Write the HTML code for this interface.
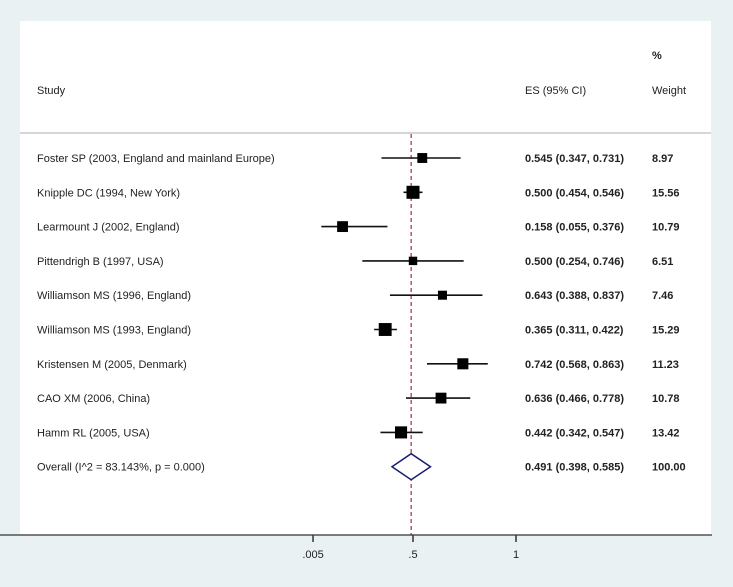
<!DOCTYPE html>
<html><head><meta charset="utf-8"><style>
body{margin:0;background:#eaf1f2;}
svg{display:block;font-family:"Liberation Sans",Arial,sans-serif;}
</style></head><body>
<svg id="c" width="733" height="587">
<rect x="0" y="0" width="733" height="587" fill="#eaf1f2"/>
<rect x="20" y="21" width="691" height="514" fill="#ffffff"/>
<line x1="20" y1="133" x2="711" y2="133" stroke="#d6d6d6" stroke-width="2"/>
<text x="652" y="59" font-size="11" font-weight="bold" fill="#222">%</text>
<text x="37" y="94" font-size="11" fill="#222">Study</text>
<text x="525" y="94" font-size="11" fill="#222">ES (95% CI)</text>
<text x="652" y="94" font-size="11" fill="#222">Weight</text>
<g id="marks"></g>
<line x1="0" y1="535" x2="712" y2="535" stroke="#333" stroke-width="1.2"/>
<g id="axis"></g>
</svg>
<script>
const studies=["Foster SP (2003, England and mainland Europe)","Knipple DC (1994, New York)","Learmount J (2002, England)","Pittendrigh B (1997, USA)","Williamson MS (1996, England)","Williamson MS (1993, England)","Kristensen M (2005, Denmark)","CAO XM (2006, China)","Hamm RL (2005, USA)"];
const es=[0.545,0.500,0.158,0.500,0.643,0.365,0.742,0.636,0.442];
const lo=[0.347,0.454,0.055,0.254,0.388,0.311,0.568,0.466,0.342];
const hi=[0.731,0.546,0.376,0.746,0.837,0.422,0.863,0.778,0.547];
const weights=["8.97","15.56","10.79","6.51","7.46","15.29","11.23","10.78","13.42"];
const overall=[0.491,0.398,0.585];
const overallLabel="Overall  (I^2 = 83.143%, p = 0.000)";
const tickVals=[0.005,0.5,1];
const tickLabels=[".005",".5","1"];
const NS="http://www.w3.org/2000/svg";
const x=v=>310+v*206;
const rowY=i=>158+i*34.3;
const g=document.getElementById('marks'),ax=document.getElementById('axis');
function mk(p,tag,a,t){const e=document.createElementNS(NS,tag);for(const k in a)e.setAttribute(k,a[k]);if(t!==undefined)e.textContent=t;p.appendChild(e);return e;}
const f=v=>v.toFixed(3);
const rl=mk(g,'line',{x1:x(overall[0]),x2:x(overall[0]),y1:134,y2:535,stroke:'#a0303a','stroke-width':1.2,'stroke-dasharray':'4,3'});


studies.forEach((s,i)=>{
 const y=rowY(i);
 const t=mk(g,'text',{x:37,y:y+4,'font-size':11,fill:'#222'},s);
 
 
 const l=mk(g,'line',{x1:x(lo[i]),x2:x(hi[i]),y1:y,y2:y,stroke:'#111','stroke-width':1.6});
 
 
 const sz=Math.sqrt(parseFloat(weights[i]))*3.3;
 const r=mk(g,'rect',{x:x(es[i])-sz/2,y:y-sz/2,width:sz,height:sz,fill:'#000'});
 
 
 const e=mk(g,'text',{x:525,y:y+4,'font-size':11,'font-weight':'bold',fill:'#222'},f(es[i])+' ('+f(lo[i])+', '+f(hi[i])+')');
 
 
 const w=mk(g,'text',{x:652,y:y+4,'font-size':11,'font-weight':'bold',fill:'#222'},weights[i]);
 
 
});
const oy=rowY(9);
const ot=mk(g,'text',{x:37,y:oy+4,'font-size':11,fill:'#222'},overallLabel);


const d=mk(g,'polygon',{points:`${x(overall[1])},${oy} ${x(overall[0])},${oy-13} ${x(overall[2])},${oy} ${x(overall[0])},${oy+13}`,fill:'#fff',stroke:'#1a1f6e','stroke-width':1.5});


const oe=mk(g,'text',{x:525,y:oy+4,'font-size':11,'font-weight':'bold',fill:'#222'},f(overall[0])+' ('+f(overall[1])+', '+f(overall[2])+')');


const ow=mk(g,'text',{x:652,y:oy+4,'font-size':11,'font-weight':'bold',fill:'#222'},'100.00');


tickVals.forEach((v,i)=>{
 const tk=mk(ax,'line',{x1:x(v)+(i===0?2:0),x2:x(v)+(i===0?2:0),y1:535,y2:542,stroke:'#333','stroke-width':1.5});
 
 
 const tl=mk(ax,'text',{x:x(v)+(i===0?2:0),y:558,'font-size':11,fill:'#222','text-anchor':'middle'},tickLabels[i]);
 
 
});
</script>
</body></html>
